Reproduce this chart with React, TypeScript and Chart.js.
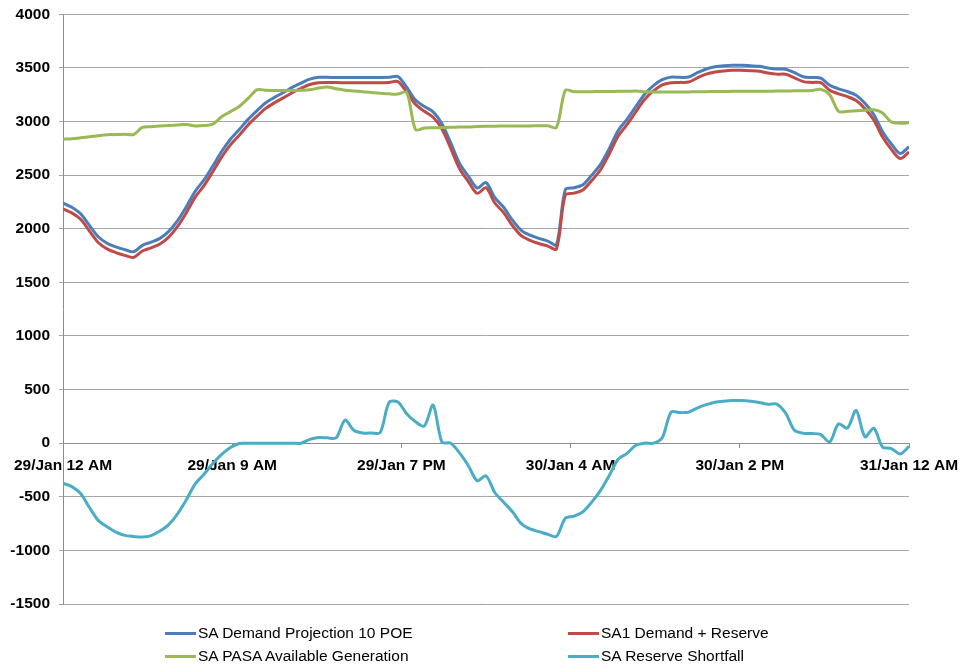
import React, { useEffect, useRef } from 'react';
import { Chart, registerables } from 'chart.js';

Chart.register(...registerables);

// Half-hourly values, 29/Jan 12 AM .. 31/Jan 12 AM (97 points)
const seriesNames = [
  'SA Demand Projection 10 POE',
  'SA1 Demand + Reserve',
  'SA PASA Available Generation',
  'SA Reserve Shortfall',
];

const demandProjection10POE = [
  2240, 2200, 2140, 2030, 1925, 1865, 1830, 1805, 1785, 1845,
  1875, 1910, 1975, 2075, 2205, 2350, 2455, 2585, 2720, 2835,
  2925, 3020, 3100, 3175, 3225, 3270, 3318, 3358, 3395, 3412,
  3412, 3410, 3410, 3410, 3410, 3410, 3410, 3412, 3420, 3320,
  3200, 3140, 3090, 2980, 2800, 2610, 2490, 2380, 2430, 2290,
  2200, 2080, 1985, 1940, 1910, 1885, 1850, 2365, 2382, 2410,
  2500, 2600, 2750, 2915, 3020, 3140, 3255, 3335, 3390, 3414,
  3412, 3415, 3455, 3490, 3510, 3520, 3525, 3525, 3520, 3515,
  3500, 3490, 3488, 3455, 3418, 3410, 3405, 3338, 3305, 3280,
  3245, 3170, 3065, 2905, 2790, 2702, 2765,
];

const demandPlusReserve = [
  2185, 2148, 2088, 1978, 1872, 1812, 1778, 1752, 1732, 1792,
  1822, 1858, 1922, 2022, 2150, 2295, 2402, 2532, 2668, 2782,
  2872, 2968, 3048, 3122, 3175, 3220, 3268, 3308, 3345, 3362,
  3365, 3363, 3362, 3362, 3362, 3362, 3362, 3365, 3372, 3275,
  3160, 3095, 3040, 2930, 2750, 2560, 2440, 2330, 2382, 2240,
  2150, 2030, 1935, 1892, 1862, 1838, 1812, 2315, 2332, 2362,
  2450, 2550, 2700, 2865, 2970, 3090, 3205, 3285, 3342, 3362,
  3365, 3368, 3408, 3442, 3462, 3472, 3478, 3478, 3474, 3468,
  3452, 3442, 3440, 3408, 3372, 3365, 3362, 3292, 3258, 3232,
  3195, 3120, 3015, 2855, 2740, 2655, 2715,
];

const pasaAvailableGeneration = [
  2835, 2840, 2848, 2857, 2868, 2877, 2878, 2882, 2878, 2945,
  2952, 2958, 2962, 2968, 2972, 2958, 2962, 2975, 3045, 3092,
  3140, 3215, 3295, 3292, 3290, 3290, 3290, 3292, 3296, 3312,
  3322, 3305, 3292, 3285, 3278, 3270, 3264, 3258, 3256, 3272,
  2925, 2940, 2942, 2944, 2946, 2948, 2950, 2954, 2956, 2957,
  2958, 2958, 2958, 2959, 2960, 2960, 2945, 3290, 3278, 3278,
  3278, 3280, 3280, 3282, 3282, 3284, 3278, 3276, 3276, 3276,
  3276, 3276, 3278, 3278, 3280, 3280, 3282, 3282, 3282, 3282,
  3282, 3284, 3284, 3286, 3286, 3290, 3300, 3250, 3095, 3095,
  3100, 3105, 3110, 3080, 2995, 2985, 2988,
];

const reserveShortfall = [
  -375, -405, -470, -600, -720, -780, -830, -860, -870, -876,
  -862, -820, -760, -660, -528, -380, -290, -190, -105, -40,
  -3, 0, 0, 0, 0, 0, 0, 0, 35, 52,
  50, 50, 215, 120, 95, 95, 100, 380, 385, 275,
  200, 160, 355, 10, 0, -90, -210, -350, -305, -460,
  -550, -640, -750, -800, -825, -850, -870, -700, -680, -640,
  -550, -440, -300, -150, -95, -20, 0, 0, 50, 290,
  285, 290, 330, 360, 382, 392, 398, 398, 392, 380,
  362, 365, 280, 120, 93, 90, 80, 10, 180, 140,
  305, 60, 140, -35, -50, -100, -30,
];

const xTickPositions = [0, 19.2, 38.4, 57.6, 76.8, 96];
const xTickLabels = [
  '29/Jan 12 AM',
  '29/Jan 9 AM',
  '29/Jan 7 PM',
  '30/Jan 4 AM',
  '30/Jan 2 PM',
  '31/Jan 12 AM',
];

const seriesColors = ['#4A7EBB', '#BE4B48', '#98B954', '#4BACC6'];
const FONT = "'Liberation Sans', Arial, Helvetica, sans-serif";

export default function App() {
  const ref = useRef<HTMLCanvasElement>(null);

  useEffect(() => {
    document.body.style.margin = '0';
    const toPts = (arr: number[]) => arr.map((v, i) => ({ x: i, y: v }));
    const all = [demandProjection10POE, demandPlusReserve, pasaAvailableGeneration, reserveShortfall];
    const chart = new Chart(ref.current as HTMLCanvasElement, {
      type: 'line',
      data: {
        datasets: all.map((arr, k) => ({
          label: seriesNames[k],
          data: toPts(arr),
          borderColor: seriesColors[k],
          backgroundColor: seriesColors[k],
          borderWidth: 3,
          pointRadius: 0,
          tension: 0.3,
          fill: false,
          order: 4 - k,
        })),
      },
      options: {
        animation: false,
        responsive: false,
        maintainAspectRatio: false,
        layout: { padding: { top: 10, right: 60, bottom: 64, left: 0 } },
        plugins: { legend: { display: false }, tooltip: { enabled: false } },
        scales: {
          x: {
            type: 'linear',
            min: 0,
            max: 96,
            position: { y: 0 } as any,
            afterBuildTicks: (s: any) => {
              s.ticks = xTickPositions.map((v) => ({ value: v }));
            },
            ticks: {
              autoSkip: false,
              maxRotation: 0,
              padding: 9,
              color: '#000',
              font: { family: FONT, size: 15.5, weight: 'bold' },
              callback: (_v: any, i: number) => xTickLabels[i] ?? '',
            },
            grid: { drawOnChartArea: false, drawTicks: true, tickLength: 4, color: '#8c8c8c' },
            border: { display: true, color: '#8c8c8c', width: 1 },
          },
          y: {
            min: -1500,
            max: 4000,
            afterFit: (s: any) => {
              s.width = 63;
            },
            ticks: {
              stepSize: 500,
              padding: 9,
              color: '#000',
              font: { family: FONT, size: 15.5, weight: 'bold' },
              callback: (v: any) => String(v),
            },
            grid: { color: '#a6a6a6', tickLength: 4 },
            border: { display: true, color: '#8c8c8c', width: 1 },
          },
        },
      },
    });
    return () => chart.destroy();
  }, []);

  const legendItems = [
    { k: 0, left: 165, top: 633 },
    { k: 1, left: 568, top: 633 },
    { k: 2, left: 165, top: 656 },
    { k: 3, left: 568, top: 656 },
  ];

  return (
    <div style={{ position: 'relative', width: 969, height: 668, overflow: 'hidden' }}>
      <canvas
        ref={ref}
        width={969}
        height={672}
        style={{ display: 'block', position: 'absolute', left: 0, top: -4, width: 969, height: 672 }}
      />
      {legendItems.map((it) => (
        <div
          key={it.k}
          style={{
            position: 'absolute',
            left: it.left,
            top: it.top - 10,
            height: 20,
            display: 'flex',
            alignItems: 'center',
            fontFamily: FONT,
            fontSize: 15.5,
            color: '#000',
            whiteSpace: 'nowrap',
          }}
        >
          <span style={{ display: 'inline-block', width: 31, height: 3, background: seriesColors[it.k], marginRight: 2 }} />
          <span>{seriesNames[it.k]}</span>
        </div>
      ))}
    </div>
  );
}
